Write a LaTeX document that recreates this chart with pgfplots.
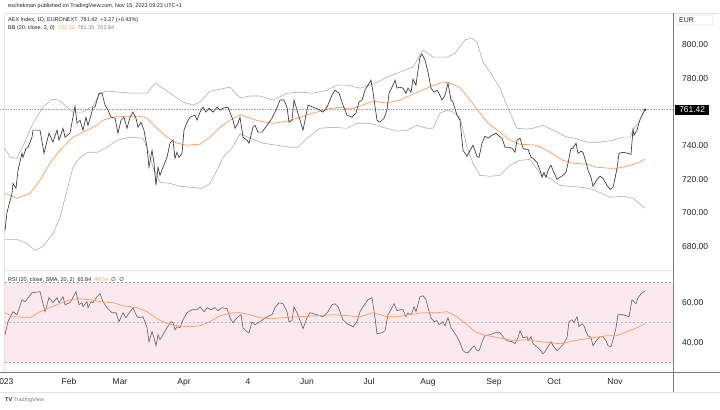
\documentclass[border=0pt]{standalone}
\usepackage{pgfplots}
\pgfplotsset{compat=1.18}
\usepackage{fontspec}
\setmainfont{Liberation Sans}
\newfontfamily\symfont{DejaVu Sans}
\definecolor{pricec}{HTML}{383838}
\definecolor{bandc}{HTML}{B0B0B0}
\definecolor{orangec}{HTML}{FF9B57}
\definecolor{rsic}{HTML}{606060}
\definecolor{pinkbg}{HTML}{FCE9EF}
\definecolor{sepc}{HTML}{E0E3EB}
\definecolor{axc}{HTML}{7A7A7A}
\definecolor{txtc}{HTML}{222222}
\begin{document}
\begin{tikzpicture}[x=1bp,y=1bp]
\path[use as bounding box, fill=white] (0,0) rectangle (720,409);
% frame lines
\draw[sepc, line width=0.8bp] (4,396) -- (720,396);
\draw[sepc, line width=0.8bp] (4.5,396) -- (4.5,37);
\draw[sepc, line width=1.5bp] (4,138.5) -- (673,138.5);
\draw[sepc, line width=0.8bp] (0,17) -- (720,17);
% main price pane
\begin{axis}[
  at={(0bp,139bp)}, anchor=south west,
  scale only axis, width=673bp, height=257bp,
  xmin=0, xmax=673, ymin=666, ymax=819.06,
  axis line style={draw=none},
  xtick=\empty,
  ytick={680,700,720,740,780,800},
  ytick pos=right, yticklabel pos=right,
  major tick length=0pt,
  yticklabel style={font=\fontsize{8.5}{10}\selectfont, text=txtc, anchor=west, inner sep=0pt, xshift=9bp},
  yticklabel={\pgfmathprintnumber[fixed,fixed zerofill,precision=2,assume math mode=true]{\tick}},
  clip=false,
]
\addplot[gray!70, densely dotted, line width=0.6bp] coordinates {(0,761.42) (673,761.42)};
% upper band
\addplot[bandc, line width=0.6bp] coordinates {
(5,738.5) (10,733.1) (17,732.5) (27,745.1) (33,753.4) (43,763.0) (52,767.8) (59,767.2) (67,763.0) (73,760.0) (83,760.0) (93,763.6) (100,771.3) (107,772.5) (120,771.9) (133,771.3) (147,771.3) (155,777.3) (163,774.3) (173,770.1) (183,766.0) (193,764.2) (200,766.0) (210,772.5) (220,773.7) (230,774.9) (240,768.5) (250,769.6) (260,769.6) (273,767.2) (287,771.3) (300,771.9) (313,771.3) (327,773.1) (337,776.1) (347,776.1) (360,774.3) (373,776.7) (387,780.9) (400,783.9) (413,786.9) (423,797.0) (433,792.8) (447,792.8) (455,795.0) (465,803.0) (472,804.2) (477,801.4) (483,789.9) (490,783.9) (500,774.3) (508,762.4) (517,750.4) (527,749.9) (533,750.4) (543,752.2) (553,749.3) (567,745.1) (575,744.5) (587,742.1) (600,742.1) (613,743.3) (623,745.1) (630,745.1) (633,749.3) (640,755.2) (645,761.35)};
% lower band
\addplot[bandc, line width=0.6bp] coordinates {
(5,684.2) (17,684.2) (27,681.8) (35,677.6) (43,680.0) (53,687.8) (60,697.3) (67,713.4) (73,727.2) (80,733.1) (88,736.1) (97,736.1) (107,739.1) (117,743.3) (130,745.1) (143,744.5) (148,737.3) (153,727.2) (160,718.2) (170,717.6) (180,715.8) (193,715.2) (202,714.6) (210,717.6) (217,725.4) (223,733.1) (232,738.5) (240,747.0) (250,744.5) (263,741.5) (277,740.3) (290,739.1) (298,739.1) (307,744.5) (320,750.4) (333,751.0) (347,750.4) (357,753.4) (370,753.4) (383,751.0) (397,748.7) (407,749.3) (417,752.2) (427,750.4) (433,750.4) (440,759.4) (447,761.2) (453,760.0) (460,757.0) (467,739.1) (473,729.6) (480,722.4) (490,721.8) (500,722.4) (510,728.4) (520,731.3) (530,731.9) (540,723.6) (550,720.6) (560,716.4) (570,715.8) (583,715.2) (593,714.0) (610,709.3) (623,709.9) (633,708.7) (645,702.84)};
% middle band
\addplot[orangec, line width=0.7bp] coordinates {
(5,711.6) (17,708.7) (30,711.6) (40,719.4) (50,729.6) (60,737.3) (73,745.1) (87,749.3) (97,752.2) (103,755.2) (113,757.0) (127,757.6) (140,757.6) (147,756.4) (157,750.4) (167,745.1) (177,741.5) (187,740.3) (200,740.9) (210,745.1) (220,751.0) (230,755.2) (240,758.5) (250,756.4) (260,754.6) (273,753.4) (287,754.6) (300,757.0) (313,759.4) (327,761.8) (340,763.0) (350,761.8) (360,763.6) (373,766.6) (387,765.4) (400,767.2) (413,770.7) (427,774.3) (440,777.3) (448,777.8) (460,774.6) (467,769.6) (477,761.8) (487,754.0) (500,748.1) (510,743.3) (520,740.9) (537,740.3) (550,736.1) (563,731.3) (573,729.6) (587,729.0) (597,727.2) (610,726.6) (617,726.6) (627,727.8) (637,729.6) (645,732.1)};
% price
\addplot[pricec, line width=0.65bp] coordinates {
(5,689.6) (7,700.3) (12,711.6) (13,717.6) (16,714.6) (18,725.4) (22,735.5) (23,733.1) (26,738.5) (28,739.1) (32,745.1) (33,749.3) (40,749.3) (44,735.5) (49,747.5) (53,742.1) (57,749.3) (59,743.3) (63,750.4) (65,745.1) (70,747.5) (75,763.6) (77,753.4) (80,755.2) (83,749.3) (86,757.0) (88,752.2) (91,758.2) (93,763.0) (95,763.0) (99,771.3) (102,771.3) (105,764.2) (108,761.2) (111,757.0) (115,756.4) (118,747.5) (121,755.2) (124,757.0) (127,750.4) (130,757.0) (133,760.0) (136,756.4) (138,751.0) (141,754.0) (144,749.3) (147,739.1) (149,727.2) (152,737.3) (154,729.6) (156,716.4) (158,727.2) (160,722.4) (163,727.2) (167,733.1) (170,741.5) (173,743.3) (175,732.5) (177,736.1) (179,733.1) (182,735.5) (184,749.3) (187,754.0) (190,757.0) (195,758.2) (197,755.2) (200,760.0) (203,763.0) (206,760.0) (209,762.4) (213,760.0) (217,763.0) (220,761.2) (223,762.4) (228,763.0) (233,755.2) (235,750.4) (238,753.4) (240,757.0) (243,745.1) (247,743.3) (249,741.5) (253,751.0) (255,752.2) (258,748.1) (262,748.1) (267,752.2) (272,756.4) (276,761.2) (280,767.2) (284,767.2) (287,763.0) (289,754.0) (292,755.2) (294,767.2) (297,761.2) (300,755.2) (303,749.3) (308,764.2) (313,763.0) (318,761.8) (323,760.0) (327,763.0) (332,770.1) (335,773.1) (339,771.3) (343,764.2) (347,758.2) (352,757.0) (356,759.4) (359,766.0) (362,767.2) (365,773.1) (371,779.1) (373,771.9) (377,755.2) (380,754.0) (384,756.4) (387,761.2) (389,771.3) (393,776.1) (395,779.1) (397,774.3) (400,774.9) (403,774.3) (406,771.3) (408,774.3) (411,771.9) (413,779.7) (416,776.1) (417,780.9) (420,792.8) (422,794.6) (425,791.0) (428,783.9) (431,774.3) (434,771.9) (437,773.1) (439,771.3) (442,767.2) (445,770.1) (448,777.3) (451,767.2) (453,766.0) (457,758.2) (460,755.2) (463,737.3) (467,733.7) (470,737.3) (473,740.3) (477,733.7) (479,733.1) (482,741.5) (485,745.7) (488,744.5) (492,746.3) (496,747.5) (499,745.7) (502,744.5) (505,739.1) (508,739.1) (512,738.5) (515,736.1) (517,743.3) (520,744.5) (523,738.5) (525,737.9) (528,737.9) (531,733.1) (533,732.5) (537,730.1) (540,725.4) (542,721.2) (544,724.2) (546,721.2) (548,725.4) (551,728.4) (553,725.4) (557,720.0) (560,721.2) (563,722.4) (566,724.2) (568,729.6) (571,738.5) (573,738.5) (576,741.5) (578,735.5) (581,736.7) (583,736.1) (586,730.1) (588,725.4) (591,721.2) (593,715.8) (597,720.0) (600,721.8) (603,720.6) (607,716.4) (610,714.0) (613,715.2) (615,720.6) (617,726.6) (619,735.5) (623,736.1) (628,735.5) (631,734.9) (633,749.9) (634,746.3) (637,749.3) (640,755.8) (643,759.4) (645,761.42)};
\addplot[only marks, mark=*, mark size=1bp, pricec] coordinates {(645,761.42)};
\node[anchor=west, fill=black, text=white, minimum width=34bp, minimum height=10.5bp, inner sep=0pt, xshift=2bp, font=\fontsize{8.5}{10}\selectfont] at (axis cs:673,761.42) {761.42};
\end{axis}
% RSI pane
\begin{axis}[
  at={(0bp,37bp)}, anchor=south west,
  scale only axis, width=673bp, height=100.3bp,
  xmin=0, xmax=673, ymin=25.35, ymax=75.5,
  axis line style={draw=none},
  xtick={4,69,120,184,248,307,369,428,494,554,615},
  xticklabels={2023,Feb,Mar,Apr,4,Jun,Jul,Aug,Sep,Oct,Nov},
  xticklabel style={font=\fontsize{8.5}{10}\selectfont, text=txtc, anchor=base, inner sep=0pt, yshift=-12bp},
  ytick={40,60},
  ytick pos=right, yticklabel pos=right,
  major tick length=0pt,
  yticklabel style={font=\fontsize{8.5}{10}\selectfont, text=txtc, anchor=west, inner sep=0pt, xshift=9bp},
  yticklabel={\pgfmathprintnumber[fixed,fixed zerofill,precision=2,assume math mode=true]{\tick}},
  clip=false,
]
\fill[pinkbg] (axis cs:4.5,30) rectangle (axis cs:673,70);
\addplot[gray!75, dash pattern=on 2bp off 2bp, line width=0.5bp] coordinates {(4.5,70) (673,70)};
\addplot[gray!55, dash pattern=on 2bp off 2bp, line width=0.5bp] coordinates {(4.5,50) (673,50)};
\addplot[gray!75, dash pattern=on 2bp off 2bp, line width=0.5bp] coordinates {(4.5,30) (673,30)};
\addplot[rsic, line width=0.6bp] coordinates {
(5,44) (8,50.5) (13,55.5) (17,54) (22,61.5) (25,60.5) (32,65) (40,65.5) (45,55.5) (49,62.5) (53,60) (57,62.5) (59,60) (63,63) (65,59) (70,60) (76,65.5) (79,59) (82,60) (83,58) (87,60.5) (88,57.5) (91,60.5) (93,60) (97,63) (100,64.5) (103,60.5) (107,57.5) (112,55) (116,55) (119,50.5) (123,55) (126,52.5) (130,55.5) (133,57.5) (137,53) (139,52.5) (143,53) (147,47.5) (149,40.5) (152,45.5) (154,42.5) (156,38.5) (158,44) (160,41.5) (163,44) (167,47.5) (171,50.5) (173,50) (175,46.5) (177,48) (180,47.5) (183,51.5) (187,55) (192,56.5) (197,56.5) (200,58) (204,55.5) (207,57.5) (211,56.5) (215,57.5) (218,56) (222,57.5) (227,57) (230,52.5) (233,50) (237,52.5) (241,54) (243,47.5) (247,45.5) (249,45) (252,50.5) (255,49) (260,50.5) (267,53) (272,54) (275,57.5) (279,60) (283,59.5) (287,55.5) (289,50.5) (292,51) (294,58) (297,55) (299,52.5) (303,47) (307,52.5) (310,55) (317,54) (323,53) (328,55.5) (332,59) (335,59.5) (338,58) (343,51.5) (347,49.5) (353,48) (357,50.5) (360,55.5) (363,58) (368,61.5) (372,62.5) (375,52.5) (377,44.5) (382,45) (385,46) (388,54) (392,57.5) (394,59.5) (397,56) (400,56.5) (403,56.5) (406,53) (408,55) (410,54) (412,55) (414,58) (416,55.5) (420,63) (423,63.5) (426,61.5) (428,57.5) (431,52.5) (434,50.5) (437,51) (439,49) (443,50.5) (445,48.5) (448,52.5) (451,47.5) (453,46) (457,43) (460,40) (463,36) (466,35) (468,35) (472,37.5) (474,38.5) (477,36) (479,36) (483,41.5) (485,43.5) (490,44) (495,45) (500,45) (503,43) (507,41) (512,40.5) (515,39.5) (518,42.5) (520,46) (523,42.5) (527,43) (528,41) (531,43) (533,39.5) (537,38) (540,36.5) (543,34.5) (545,35.5) (548,38) (551,40.5) (553,38.5) (557,36) (560,37.5) (563,39) (567,42.5) (569,50.5) (572,51.5) (574,50) (577,53) (579,48) (582,49.5) (584,48.5) (586,45.5) (588,43.5) (591,42.5) (593,38.5) (597,41.5) (600,43) (603,43) (606,41) (608,38.5) (611,38) (613,41.5) (616,47.5) (618,54) (623,54) (629,53) (632,61.5) (634,60.5) (636,59.5) (638,62.5) (642,65) (645,65.84)};
\addplot[orangec, line width=0.7bp] coordinates {
(5,55) (13,53) (30,52.5) (40,55.5) (57,59) (70,61.5) (78,62) (90,61.5) (100,60.5) (113,60) (123,58.5) (137,57.5) (147,55.5) (157,52) (167,49.5) (177,48.5) (190,48) (200,48.5) (210,50.5) (220,53.5) (233,55) (240,55) (250,54) (260,52.5) (270,52) (283,52.5) (300,53) (317,53.5) (333,54) (347,53.5) (360,53) (373,55) (387,53) (397,53) (410,54) (423,55) (437,55) (447,55.5) (457,53) (467,49) (475,45.5) (483,44) (493,43) (503,42) (513,41) (527,41.5) (540,40.5) (550,40) (560,39.5) (570,40.5) (580,41.5) (593,42.5) (607,43.5) (617,43.5) (627,45.5) (637,47.5) (645,49.54)};
\end{axis}
% axis separators
\draw[axc, line width=0.8bp] (0,37) -- (720,37);
\draw[axc, line width=0.8bp] (673,396) -- (673,17);
% EUR box
\draw[sepc, line width=0.6bp, rounded corners=1bp] (676,384) rectangle (713,394);
\node[anchor=west, inner sep=0pt, font=\fontsize{7}{8}\selectfont, text=txtc] at (679,389) {EUR};
% header and legends
\node[anchor=west, inner sep=0pt, font=\fontsize{5.5}{6.5}\selectfont, text=txtc] at (8,403) {eschekman published on TradingView.com, Nov 15, 2023 09:23 UTC+1};
\node[anchor=west, inner sep=0pt, font=\fontsize{5.5}{6.5}\selectfont, text=txtc] at (8,389) {AEX Index, 1D, EURONEXT\ \ 761.42\ \ +3.27 (+0.43\%)};
\node[anchor=west, inner sep=0pt, font=\fontsize{5.5}{6.5}\selectfont, text=txtc] at (8,381) {BB (20, close, 2, 0)\ \ \textcolor{orangec}{732.10}\ \ \textcolor{gray}{761.35}\ \ \textcolor{gray}{702.84}};
\node[anchor=west, inner sep=0pt, font=\fontsize{5.5}{6.5}\selectfont, text=txtc] at (8,129) {RSI (20, close, SMA, 20, 2)\ \ 65.84\ \ \textcolor{orangec}{49.54}\ \ {\symfont ∅\ \ ∅}};
\node[anchor=west, inner sep=0pt, font=\fontsize{5.5}{6.5}\selectfont, text=txtc] at (5,8.5) {\textbf{TV}\ \textcolor{gray}{TradingView}};
\end{tikzpicture}
\end{document}
